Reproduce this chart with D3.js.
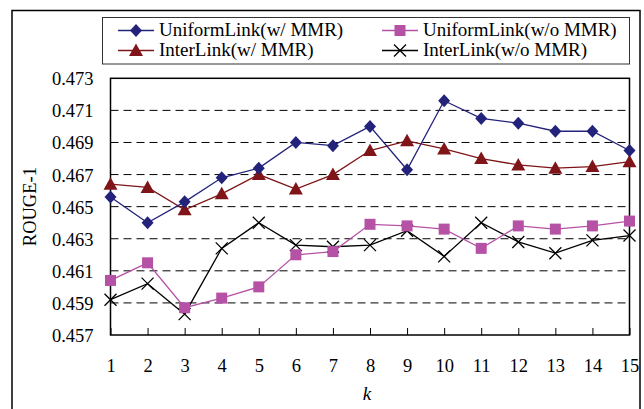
<!DOCTYPE html>
<html><head><meta charset="utf-8">
<script src="https://cdn.jsdelivr.net/npm/d3@7"></script>
<style>html,body{margin:0;padding:0;background:#fff;}svg{display:block;}</style>
</head><body>
<svg id="c" width="644" height="409"></svg>
<script>
const ks = [1,2,3,4,5,6,7,8,9,10,11,12,13,14,15];
const uniformWith = [0.4656,0.4640,0.4653,0.4668,0.4674,0.4690,0.4688,0.4700,0.4673,0.4716,0.4705,0.4702,0.4697,0.4697,0.4685];
const uniformWithout = [0.4604,0.4615,0.4587,0.4593,0.4600,0.4620,0.4622,0.4639,0.4638,0.4636,0.4624,0.4638,0.4636,0.4638,0.4641];
const interWith = [0.4664,0.4662,0.4648,0.4658,0.4670,0.4661,0.4670,0.4685,0.4691,0.4686,0.4680,0.4676,0.4674,0.4675,0.4678];
const interWithout = [0.4592,0.4602,0.4583,0.4624,0.4640,0.4626,0.4625,0.4626,0.4635,0.4619,0.4640,0.4628,0.4621,0.4629,0.4632];
const yTicks = [0.457,0.459,0.461,0.463,0.465,0.467,0.469,0.471,0.473];
const seriesNames = ["UniformLink(w/ MMR)","UniformLink(w/o MMR)","InterLink(w/ MMR)","InterLink(w/o MMR)"];

const svg = d3.select("#c");
const FONT = "'Liberation Serif','Times New Roman',serif";
const L = 110.5, R = 629.5, T = 78.3, B = 335;
const x = d3.scaleLinear().domain([1,15]).range([L,R]);
const y = d3.scaleLinear().domain([0.457,0.473]).range([B,T]);

// outer frame
svg.append("rect").attr("x",12).attr("y",10.5).attr("width",628).attr("height",420)
  .attr("fill","none").attr("stroke","#000").attr("stroke-width",1.5);

// grid
svg.append("g").selectAll("line").data(yTicks.filter(v=>v>0.457 && v<0.473)).join("line")
  .attr("x1",L).attr("x2",R).attr("y1",d=>y(d)).attr("y2",d=>y(d))
  .attr("stroke","#000").attr("stroke-width",1).attr("stroke-dasharray","8,5");

// y axis
const ya = svg.append("g").attr("transform",`translate(${L},0)`)
  .call(d3.axisLeft(y).tickValues(yTicks).tickFormat(d3.format(".3f")).tickSize(0).tickPadding(17));
ya.select(".domain").remove();
ya.selectAll("text").attr("font-family",FONT).attr("font-size","18.5px").attr("fill","#000").attr("dy","0.35em");

// x axis
const xa = svg.append("g").attr("transform",`translate(0,${B})`)
  .call(d3.axisBottom(x).tickValues(ks).tickFormat(d3.format("d")).tickSize(-7).tickPadding(24));
xa.select(".domain").remove();
xa.selectAll("line").attr("stroke","#000").attr("stroke-width",1);
xa.selectAll("text").attr("font-family",FONT).attr("font-size","18.5px").attr("fill","#000");

// plot frame
svg.append("rect").attr("x",L).attr("y",T).attr("width",R-L).attr("height",B-T)
  .attr("fill","none").attr("stroke","#000").attr("stroke-width",1.5);

// axis titles
svg.append("text").attr("x",(L+R)/2-3).attr("y",400).attr("text-anchor","middle")
  .attr("font-family",FONT).attr("font-size","19px").attr("font-style","italic").text("k");
svg.append("text").attr("transform",`translate(36,${(T+B)/2}) rotate(-90)`).attr("text-anchor","middle")
  .attr("font-family",FONT).attr("font-size","18.5px").text("ROUGE-1");

const series = [
  {name:seriesNames[0], vals:uniformWith, color:"#23237b", marker:"diamond"},
  {name:seriesNames[1], vals:uniformWithout, color:"#b652a6", marker:"square"},
  {name:seriesNames[2], vals:interWith, color:"#7f1518", marker:"triangle"},
  {name:seriesNames[3], vals:interWithout, color:"#000", marker:"x"}
];

function drawMarker(g, type, color){
  if(type==="diamond") g.append("path").attr("d","M0,-6.5L6,0L0,6.5L-6,0Z").attr("fill",color);
  else if(type==="triangle") g.append("path").attr("d","M0,-7L7,5.5L-7,5.5Z").attr("fill",color);
  else if(type==="square") g.append("rect").attr("x",-5.5).attr("y",-5.5).attr("width",11).attr("height",11).attr("fill",color);
  else g.append("path").attr("d","M-6,-6L6,6M-6,6L6,-6").attr("stroke",color).attr("stroke-width",1.3).attr("fill","none");
}

const line = d3.line().x((d,i)=>x(ks[i])).y(d=>y(d));
// draw order: black, magenta, red, blue (blue on top)
[series[3],series[1],series[2],series[0]].forEach(s=>{
  svg.append("path").datum(s.vals).attr("d",line).attr("fill","none")
    .attr("stroke",s.color).attr("stroke-width",1.3);
  s.vals.forEach((v,i)=>{
    const g = svg.append("g").attr("transform",`translate(${x(ks[i])},${y(v)})`);
    drawMarker(g,s.marker,s.color);
  });
});

// legend
svg.append("rect").attr("x",102.5).attr("y",17.5).attr("width",527).attr("height",46.5)
  .attr("fill","#fff").attr("stroke","#333").attr("stroke-width",1);
const legPos = [
  {s:series[0], x:118, y:30.5},
  {s:series[1], x:382, y:30.5},
  {s:series[2], x:118, y:50.5},
  {s:series[3], x:382, y:50.5}
];
legPos.forEach(p=>{
  svg.append("line").attr("x1",p.x).attr("x2",p.x+36).attr("y1",p.y).attr("y2",p.y)
    .attr("stroke",p.s.color).attr("stroke-width",1.3);
  const g = svg.append("g").attr("transform",`translate(${p.x+18},${p.y})`);
  drawMarker(g,p.s.marker,p.s.color);
  const t = svg.append("text").attr("x",p.x+41).attr("y",p.y).attr("dy","0.33em")
    .attr("font-family",FONT).attr("font-size","18px").text(p.s.name);
  const w = t.node().getComputedTextLength();
  t.attr("textLength", w*19/18).attr("lengthAdjust","spacingAndGlyphs");
});
</script>
</body></html>
